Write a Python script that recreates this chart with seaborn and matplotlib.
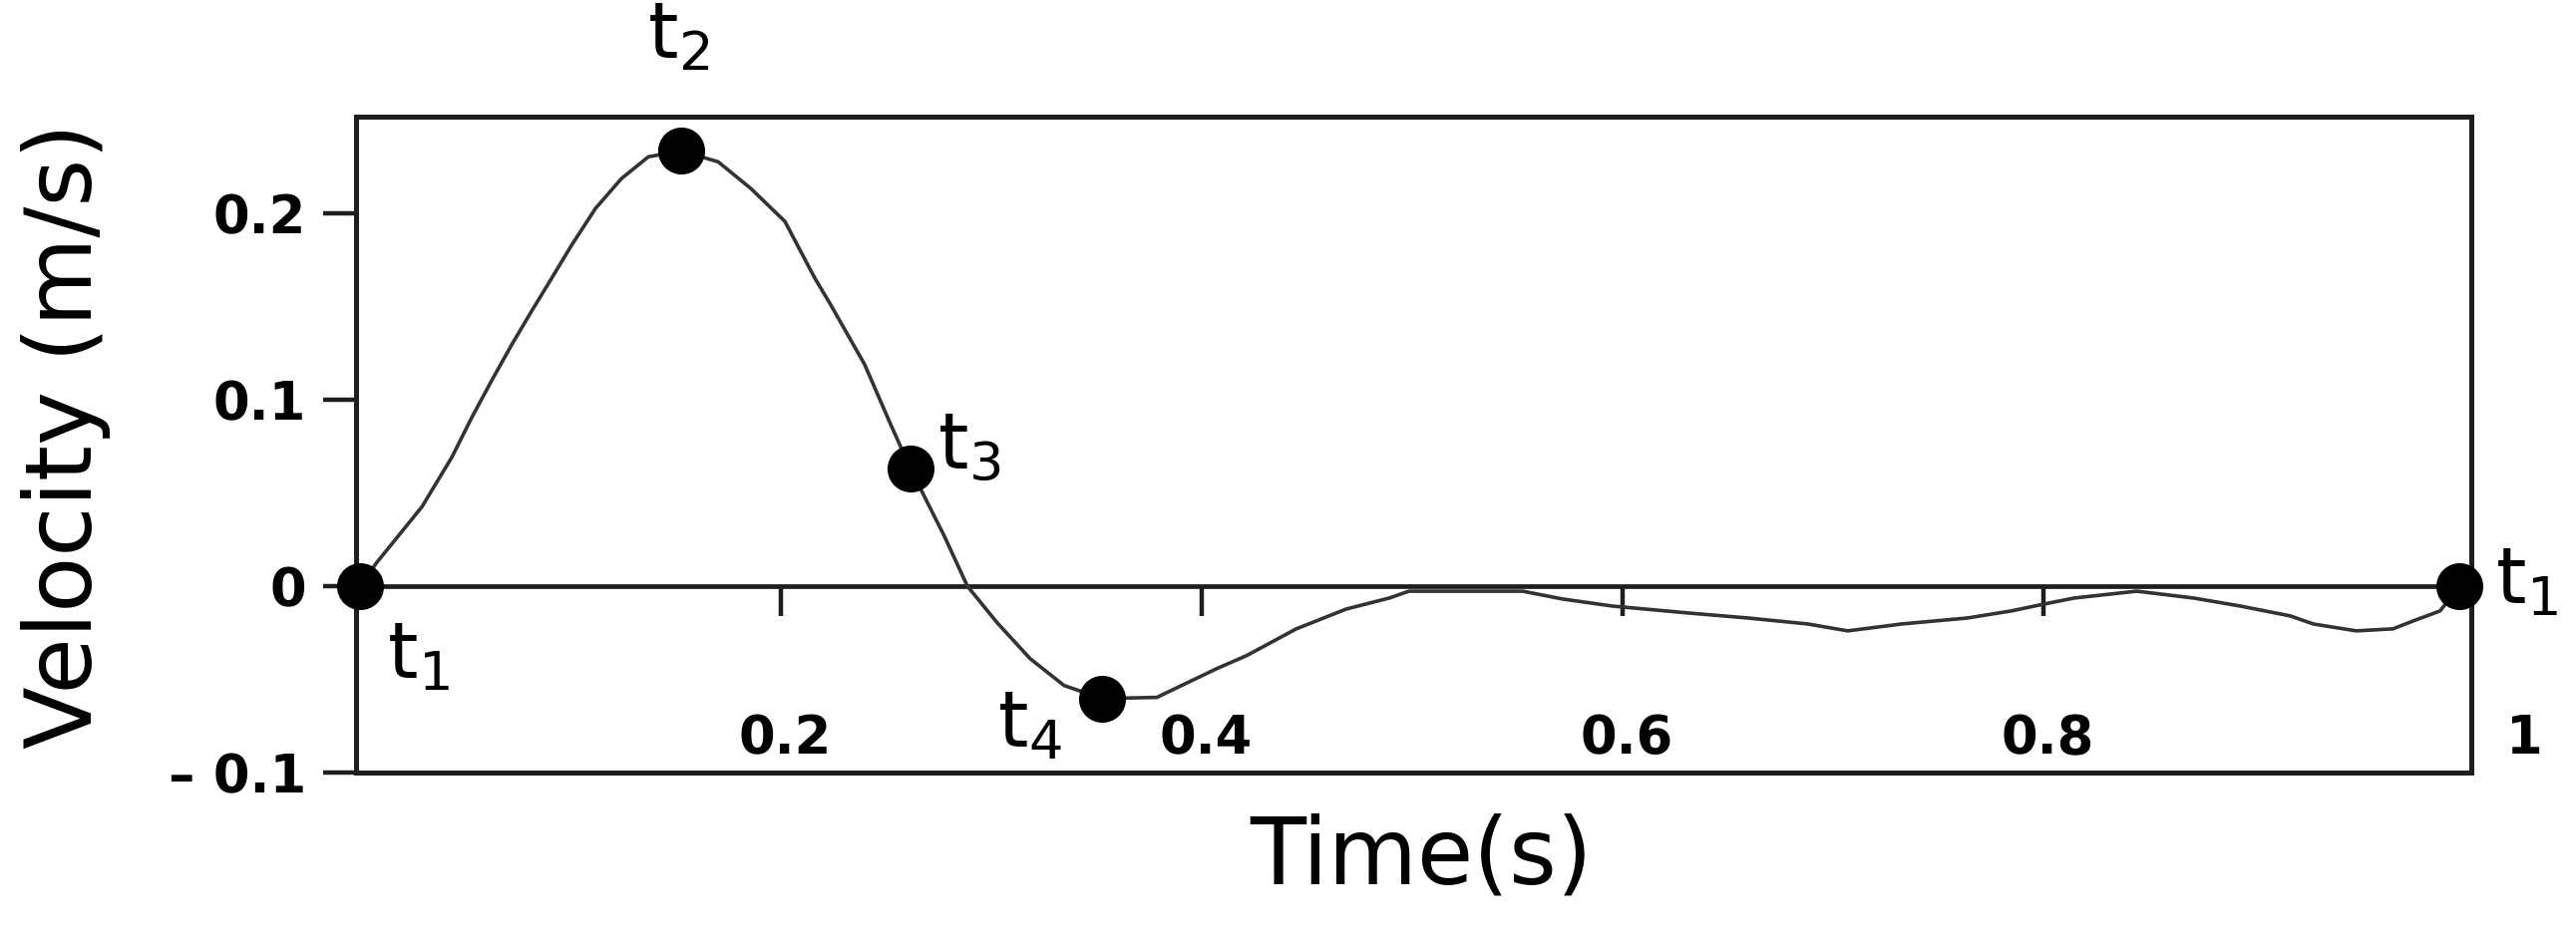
import matplotlib
matplotlib.use("Agg")
import matplotlib.pyplot as plt
import pandas as pd
import seaborn as sns

# velocity trace
time_s = [0.0, 0.0076, 0.0294, 0.0436, 0.0531, 0.0625, 0.0720, 0.0815, 0.0910, 0.1004,
          0.1118, 0.1241, 0.1369, 0.1525, 0.1701, 0.1857, 0.2018, 0.2160, 0.2236, 0.2397,
          0.2520, 0.2615, 0.2776, 0.2885, 0.3027, 0.3183, 0.3344, 0.3524, 0.3785, 0.4069,
          0.4211, 0.4448, 0.4685, 0.4889, 0.4983, 0.5253, 0.5523, 0.5713, 0.5950, 0.6310,
          0.6594, 0.6878, 0.7068, 0.7324, 0.7636, 0.7845, 0.8001, 0.8143, 0.8441, 0.8712,
          0.8934, 0.9171, 0.9280, 0.9484, 0.9659, 0.9754, 0.9882, 0.9976]
velocity = [0.0, 0.0123, 0.0427, 0.0693, 0.0907, 0.1104, 0.1296, 0.1477, 0.1653, 0.1829,
            0.2027, 0.2187, 0.2304, 0.2336, 0.2277, 0.2133, 0.1957, 0.1653, 0.1509, 0.1189,
            0.0869, 0.0629, 0.0267, 0.0, -0.0197, -0.0389, -0.0533, -0.0603, -0.0597, -0.0443,
            -0.0373, -0.0229, -0.0123, -0.0064, -0.0027, -0.0027, -0.0027, -0.0069, -0.0107, -0.0144,
            -0.0171, -0.0203, -0.0240, -0.0203, -0.0171, -0.0133, -0.0096, -0.0064, -0.0027, -0.0064,
            -0.0107, -0.0160, -0.0203, -0.0240, -0.0229, -0.0187, -0.0133, 0.0]

# marked instants
key_labels = ["t$_1$", "t$_2$", "t$_3$", "t$_4$", "t$_1$"]
key_time = [0.0, 0.1525, 0.2615, 0.3524, 0.9976]
key_vel = [0.0, 0.2336, 0.0629, -0.0603, 0.0]

x_ticks = [0.2, 0.4, 0.6, 0.8, 1]
x_tick_labels = ["0.2", "0.4", "0.6", "0.8", "1"]
y_ticks = [-0.1, 0, 0.1, 0.2]
y_tick_labels = ["\u2013 0.1", "0", "0.1", "0.2"]

sns.set_style("ticks")
plt.rcParams.update({"font.family": ["DejaVu Sans"], "mathtext.fontset": "dejavusans",
                     "text.color": "black", "axes.labelcolor": "black",
                     "xtick.color": "black", "ytick.color": "black"})

INK = "#1e1e1e"

fig = plt.figure(figsize=(25.83, 9.43), dpi=100)
ax = fig.add_axes([0.1382, 0.1782, 0.8211, 0.6978])

df = pd.DataFrame({"t": time_s, "v": velocity})
sns.lineplot(data=df, x="t", y="v", ax=ax, color="#333333", linewidth=2.6, sort=False, zorder=3,
             solid_joinstyle="round", solid_capstyle="round")
ax.axhline(0, color=INK, linewidth=3.4, zorder=2)

# little ticks hanging under the zero line
ax.vlines(x_ticks[:-1], -0.016, 0, color=INK, linewidth=3.2, zorder=2)

pts = pd.DataFrame({"t": key_time, "v": key_vel})
sns.scatterplot(data=pts, x="t", y="v", ax=ax, s=1150, color="black", edgecolor="black",
                linewidth=0, zorder=5, clip_on=False)

offsets = [(27, -70, "left"), (-3, 115, "center"), (27, 22, "left"), (-40, -26, "right"), (36, 5, "left")]
for lab, tx, vy, (dx, dy, ha) in zip(key_labels, key_time, key_vel, offsets):
    ax.annotate(lab, (tx, vy), xytext=(dx, dy), textcoords="offset pixels",
                ha=ha, va="center", fontsize=56, color="black", annotation_clip=False)

ax.set_xlim(-0.002, 1.003)
ax.set_ylim(-0.1, 0.252)

ax.set_xticks([])
for tv, tl in zip(x_ticks, x_tick_labels):
    dx, ha = (41, "left") if tv == 1 else (4, "center")
    ax.annotate(tl, (tv, -0.082), xytext=(dx, 0), textcoords="offset pixels",
                ha=ha, va="center", fontsize=38, fontweight="bold", color="black",
                annotation_clip=False)

ax.set_yticks(y_ticks)
ax.set_yticklabels(y_tick_labels)
ax.tick_params(axis="y", length=24, width=3.2, pad=12, labelsize=38, color=INK, labelcolor="black")
for t in ax.get_yticklabels():
    t.set_fontweight("bold")

for side in ["top", "right", "bottom", "left"]:
    ax.spines[side].set_visible(True)
    ax.spines[side].set_color(INK)
    ax.spines[side].set_linewidth(3.6)

ax.set_xlabel("")
ax.set_ylabel("")
fig.text(0.5517, 0.088, "Time(s)", ha="center", va="center", fontsize=66, color="black")
fig.text(0.0256, 0.537, "Velocity (m/s)", ha="center", va="center", rotation=90, fontsize=66,
         color="black")

fig.savefig("out.png", dpi=100, facecolor="white")
plt.close(fig)
